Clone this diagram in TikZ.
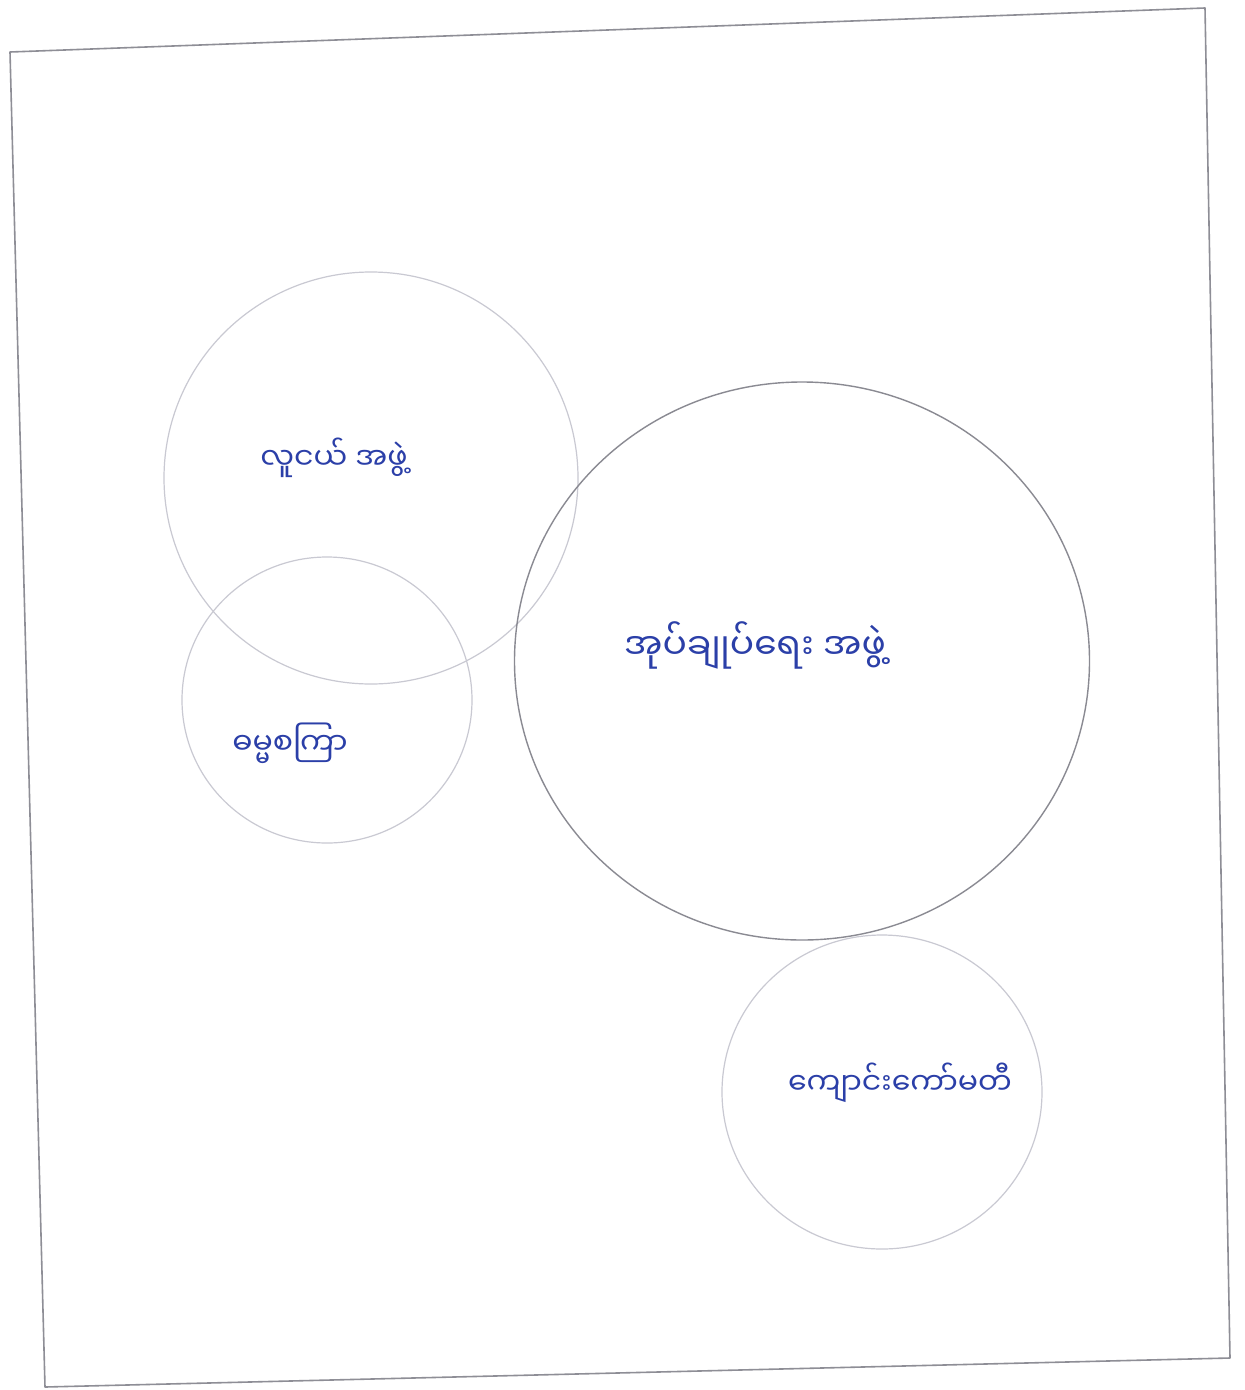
\documentclass[tikz,border=0pt]{standalone}
\usepackage{fontspec}
\newfontfamily\mmfont[Script=Myanmar]{Noto Sans Myanmar UI}
\usetikzlibrary{shapes.geometric}
\definecolor{inkblue}{HTML}{2B3FA8}
\definecolor{paleline}{HTML}{C9C9D2}
\definecolor{midline}{HTML}{8A8A92}
\definecolor{frameline}{HTML}{8E8E96}
\tikzset{
  group/.style={draw=paleline, line width=1.2pt, ellipse, inner sep=0pt},
  maingroup/.style={draw=midline, line width=1.4pt, ellipse, inner sep=0pt},
  label/.style={text=inkblue, font=\mmfont\fontsize{30}{34}\selectfont, inner sep=0pt},
  biglabel/.style={label, font=\mmfont\fontsize{36}{40}\selectfont},
  frame/.style={draw=frameline, line width=1.6pt, line join=round}
}
\begin{document}
\begin{tikzpicture}[x=1pt,y=-1pt]
\useasboundingbox[fill=white] (0,0) rectangle (1245,1390);
% frame
\coordinate (tl) at (10,52);
\coordinate (tr) at (1205,8);
\coordinate (br) at (1230,1358);
\coordinate (bl) at (45,1387);
\draw[frame] (tl) -- (tr) -- (br) -- (bl) -- cycle;
% circles
\node[group, minimum width=414pt, minimum height=412pt] (youth) at (371,478) {};
\node[group, minimum width=290pt, minimum height=286pt] (dhamma) at (327,700) {};
\node[maingroup, minimum width=575pt, minimum height=558pt] (admin) at (802,661) {};
\node[group, minimum width=320pt, minimum height=314pt] (school) at (882,1092) {};
% labels
\node[label] (youthtxt) at (334,458) {လူငယ် အဖွဲ့};
\node[biglabel] (admintxt) at (755,645) {အုပ်ချုပ်ရေး အဖွဲ့};
\node[label] (dhammatxt) at (290,743) {ဓမ္မစကြာ};
\node[label] (schooltxt) at (900,1083) {ကျောင်းကော်မတီ};
\end{tikzpicture}
\end{document}
